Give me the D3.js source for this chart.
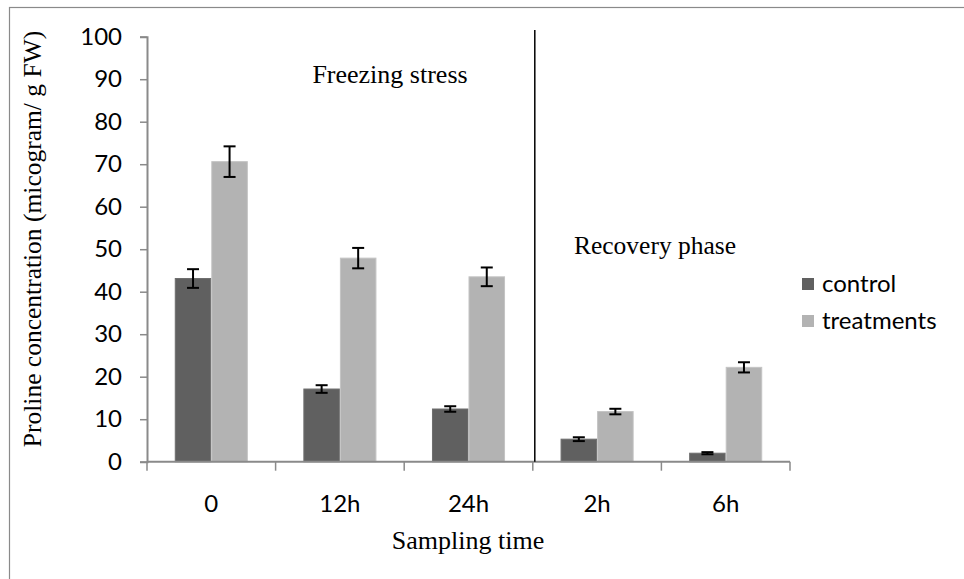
<!DOCTYPE html>
<html>
<head>
<meta charset="utf-8">
<script src="https://cdn.jsdelivr.net/npm/d3@7"></script>
<style>
  html, body { margin: 0; padding: 0; background: #fff; }
  svg { display: block; }
</style>
</head>
<body>
<svg id="chart" width="964" height="579"></svg>
<script>
// Sampling times and measured proline content (µg / g FW)
const categories = ["0", "12h", "24h", "2h", "6h"];
const seriesNames = ["control", "treatments"];
const controlValues = [43.1, 17.1, 12.4, 5.3, 2.0];
const controlErrors = [2.2, 0.9, 0.65, 0.45, 0.25];
const treatmentValues = [70.6, 47.9, 43.5, 11.8, 22.2];
const treatmentErrors = [3.6, 2.4, 2.2, 0.65, 1.2];
const yTicks = [0, 10, 20, 30, 40, 50, 60, 70, 80, 90, 100];
const phaseLabels = ["Freezing stress", "Recovery phase"];
const recoveryStart = "2h";

const colors = { control: "#606060", treatments: "#b3b3b3" };
const strokes = { control: "#6e6e6e", treatments: "#c4c4c4" };

const sansFont = "Lato, 'Open Sans', sans-serif";
const serifFont = "'Liberation Serif', 'Times New Roman', serif";

const svg = d3.select("#chart");

// plot area
const plotLeft = 147, plotRight = 790, plotTop = 36.7, plotBottom = 461.7;

// outer chart frame
svg.append("rect")
  .attr("x", 9.5).attr("y", 7.5)
  .attr("width", 1000).attr("height", 1000)
  .attr("fill", "none").attr("stroke", "#8a8a8a").attr("stroke-width", 1.2);

const x = d3.scaleBand().domain(categories).range([plotLeft, plotRight]).paddingInner(0).paddingOuter(0);
const xSub = d3.scaleBand().domain(seriesNames).range([0, x.bandwidth()]).paddingInner(0).paddingOuter(0.76);
const y = d3.scaleLinear().domain([0, 100]).range([plotBottom, plotTop]);

const rows = categories.map((c, i) => ({
  cat: c,
  items: [
    { key: "control", value: controlValues[i], err: controlErrors[i] },
    { key: "treatments", value: treatmentValues[i], err: treatmentErrors[i] }
  ]
}));

// bars
const groups = svg.append("g").selectAll("g").data(rows).join("g")
  .attr("transform", d => `translate(${x(d.cat)},0)`);

groups.selectAll("rect").data(d => d.items).join("rect")
  .attr("x", d => xSub(d.key) + 0.5)
  .attr("y", d => y(d.value))
  .attr("width", xSub.bandwidth() - 1)
  .attr("height", d => y(0) - y(d.value))
  .attr("fill", d => colors[d.key])
  .attr("stroke", d => strokes[d.key])
  .attr("stroke-width", 1);

// error bars
const capHalf = 6;
const eb = groups.selectAll("g.err").data(d => d.items).join("g").attr("class", "err")
  .attr("stroke", "#000").attr("stroke-width", 2).attr("fill", "none");
eb.append("line")
  .attr("x1", d => xSub(d.key) + xSub.bandwidth() / 2)
  .attr("x2", d => xSub(d.key) + xSub.bandwidth() / 2)
  .attr("y1", d => y(d.value + d.err))
  .attr("y2", d => y(d.value - d.err));
eb.append("line")
  .attr("x1", d => xSub(d.key) + xSub.bandwidth() / 2 - capHalf)
  .attr("x2", d => xSub(d.key) + xSub.bandwidth() / 2 + capHalf)
  .attr("y1", d => y(d.value + d.err))
  .attr("y2", d => y(d.value + d.err));
eb.append("line")
  .attr("x1", d => xSub(d.key) + xSub.bandwidth() / 2 - capHalf)
  .attr("x2", d => xSub(d.key) + xSub.bandwidth() / 2 + capHalf)
  .attr("y1", d => y(d.value - d.err))
  .attr("y2", d => y(d.value - d.err));

// y axis
const yAxis = svg.append("g")
  .attr("transform", `translate(${plotLeft},0)`)
  .call(d3.axisLeft(y).tickValues(yTicks).tickSize(7).tickSizeOuter(7).tickPadding(18));
yAxis.select(".domain").attr("stroke", "#8a8a8a").attr("stroke-width", 2);
yAxis.selectAll(".tick line").attr("stroke", "#8a8a8a").attr("stroke-width", 1.5);
yAxis.selectAll(".tick text")
  .attr("font-family", sansFont).attr("font-size", 24).attr("fill", "#000");

// x axis: ticks at category boundaries
const boundaries = categories.map(c => x(c)).concat([x(categories[categories.length - 1]) + x.step()]);
const xAxisG = svg.append("g");
xAxisG.append("line")
  .attr("x1", plotLeft).attr("x2", plotRight).attr("y1", plotBottom).attr("y2", plotBottom)
  .attr("stroke", "#8a8a8a").attr("stroke-width", 2);
xAxisG.selectAll("line.tk").data(boundaries).join("line").attr("class", "tk")
  .attr("x1", d => d).attr("x2", d => d).attr("y1", plotBottom).attr("y2", plotBottom + 9)
  .attr("stroke", "#8a8a8a").attr("stroke-width", 1.5);
xAxisG.selectAll("text").data(categories).join("text")
  .attr("x", d => x(d) + x.bandwidth() / 2)
  .attr("y", 512)
  .attr("text-anchor", "middle")
  .attr("font-family", sansFont).attr("font-size", 24).attr("fill", "#000")
  .text(d => d);

// separator between stress and recovery phases
svg.append("line")
  .attr("x1", x(recoveryStart) + 2).attr("x2", x(recoveryStart) + 2)
  .attr("y1", 30).attr("y2", plotBottom)
  .attr("stroke", "#000").attr("stroke-width", 1.5);

// phase labels
svg.append("text").attr("x", 390).attr("y", 83)
  .attr("text-anchor", "middle").attr("font-family", serifFont).attr("font-size", 26)
  .text(phaseLabels[0]);
svg.append("text").attr("x", 655).attr("y", 254)
  .attr("text-anchor", "middle").attr("font-family", serifFont).attr("font-size", 25.5)
  .text(phaseLabels[1]);

// axis titles
svg.append("text").attr("x", 468).attr("y", 549)
  .attr("text-anchor", "middle").attr("font-family", serifFont).attr("font-size", 26)
  .text("Sampling time");
svg.append("text")
  .attr("transform", "translate(41,239) rotate(-90)")
  .attr("text-anchor", "middle").attr("font-family", serifFont).attr("font-size", 25.5)
  .text("Proline concentration (micogram/ g FW)");

// legend
const legend = svg.append("g").selectAll("g").data(seriesNames).join("g")
  .attr("transform", (d, i) => `translate(802,${284 + i * 37})`);
legend.append("rect").attr("x", 0).attr("y", -6).attr("width", 12).attr("height", 12)
  .attr("fill", d => colors[d]);
legend.append("text").attr("x", 20).attr("y", 0).attr("dy", "0.35em")
  .attr("font-family", sansFont).attr("font-size", 24).attr("fill", "#000")
  .text(d => d);
</script>
</body>
</html>
